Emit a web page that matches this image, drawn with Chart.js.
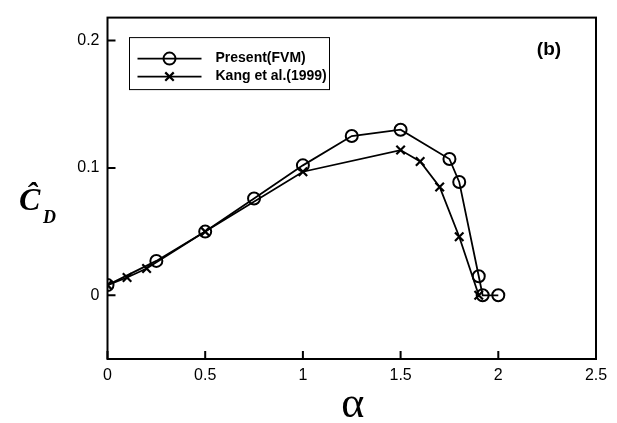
<!DOCTYPE html>
<html>
<head>
<meta charset="utf-8">
<script src="https://cdn.jsdelivr.net/npm/chart.js@4/dist/chart.umd.min.js"></script>
<style>
  body { margin: 0; background: #fff; }
  canvas { display: block; }
</style>
</head>
<body>
<canvas id="dragChart" width="617" height="423"></canvas>
<script>
// drag coefficient vs rotation rate
const alphaFVM = [0, 0.25, 0.5, 0.75, 1.0, 1.25, 1.5, 1.75, 1.8, 1.9, 1.92, 2.0]
const cdFVM = [0.008, 0.027, 0.050, 0.076, 0.102, 0.125, 0.130, 0.107, 0.089, 0.015, 0.0, 0.0]

const alphaKang = [0, 0.1, 0.2, 0.5, 1.0, 1.5, 1.6, 1.7, 1.8, 1.9]
const cdKang = [0.008, 0.014, 0.021, 0.050, 0.097, 0.114, 0.105, 0.085, 0.046, 0.0]

const xTicks = [0, 0.5, 1, 1.5, 2, 2.5]
const yTicks = [0, 0.1, 0.2]

const seriesNames = ['Present(FVM)', 'Kang et al.(1999)']

const toPoints = (xs, ys) => xs.map((x, i) => ({ x: x, y: ys[i] }))

const drawMarker = (ctx, style, x, y, r) => {
    ctx.beginPath()
    if (style === 'circle') {
        ctx.arc(x, y, r, 0, Math.PI * 2)
    } else {
        const d = r * Math.SQRT1_2
        ctx.moveTo(x - d, y - d); ctx.lineTo(x + d, y + d)
        ctx.moveTo(x + d, y - d); ctx.lineTo(x - d, y + d)
    }
    ctx.stroke()
}

// frame, inward ticks, legend box and axis symbols
const decorations = {
    id: 'decorations',
    afterDraw(chart) {
        const ctx = chart.ctx
        const a = chart.chartArea
        const xs = chart.scales.x
        const ys = chart.scales.y
        ctx.save()
        ctx.strokeStyle = '#000'
        ctx.fillStyle = '#000'
        ctx.lineWidth = 2
        ctx.strokeRect(a.left, a.top, a.right - a.left, a.bottom - a.top)

        ctx.beginPath()
        xTicks.forEach(v => {
            const px = xs.getPixelForValue(v)
            ctx.moveTo(px, a.bottom); ctx.lineTo(px, a.bottom - 8)
        })
        yTicks.forEach(v => {
            const py = ys.getPixelForValue(v)
            ctx.moveTo(a.left, py); ctx.lineTo(a.left + 8, py)
        })
        ctx.stroke()

        // legend
        const lx = a.left + 22, ly = a.top + 20
        ctx.lineWidth = 1
        ctx.strokeRect(lx, ly, 200, 52)
        chart.data.datasets.forEach((ds, i) => {
            const rowY = ly + 21 + i * 18
            ctx.lineWidth = 1.8
            ctx.beginPath()
            ctx.moveTo(lx + 8, rowY); ctx.lineTo(lx + 72, rowY)
            ctx.stroke()
            ctx.lineWidth = ds.pointBorderWidth
            drawMarker(ctx, ds.pointStyle, lx + 40, rowY, ds.pointRadius)
            ctx.font = 'bold 14px "Liberation Sans", Arial, sans-serif'
            ctx.textBaseline = 'middle'
            ctx.textAlign = 'left'
            ctx.fillText(ds.label, lx + 86, rowY)
        })

        ctx.font = 'bold 19px "Liberation Sans", Arial, sans-serif'
        ctx.textAlign = 'center'
        ctx.textBaseline = 'middle'
        ctx.fillText('(b)', a.right - 47, a.top + 32)

        // axis titles
        ctx.font = '44px "Liberation Serif", "DejaVu Serif", serif'
        ctx.textBaseline = 'alphabetic'
        ctx.fillText('α', (a.left + a.right) / 2 + 1, 417)

        ctx.textAlign = 'left'
        ctx.font = 'bold italic 32px "Liberation Serif", "DejaVu Serif", serif'
        ctx.fillText('Ĉ', 19, 210)
        ctx.font = 'bold italic 18px "Liberation Serif", "DejaVu Serif", serif'
        ctx.fillText('D', 43, 223)
        ctx.restore()
    }
}

const config = {
    type: 'line',
    data: {
        datasets: [{
            label: seriesNames[0],
            data: toPoints(alphaFVM, cdFVM),
            borderColor: '#000',
            borderWidth: 1.8,
            pointStyle: 'circle',
            pointRadius: 6,
            pointBorderWidth: 2,
            pointBorderColor: '#000',
            pointBackgroundColor: 'rgba(0,0,0,0)',
            tension: 0
        },
        {
            label: seriesNames[1],
            data: toPoints(alphaKang, cdKang),
            borderColor: '#000',
            borderWidth: 1.8,
            pointStyle: 'crossRot',
            pointRadius: 6,
            pointBorderWidth: 2.2,
            pointBorderColor: '#000',
            tension: 0
        }]
    },
    options: {
        responsive: false,
        animation: false,
        devicePixelRatio: 1,
        layout: { padding: { top: 11, right: 21, left: 0, bottom: 0 } },
        plugins: { legend: { display: false }, tooltip: { enabled: false } },
        scales: {
            x: {
                type: 'linear',
                min: 0,
                max: 2.5,
                afterBuildTicks: s => { s.ticks = xTicks.map(v => ({ value: v })) },
                afterFit: s => { s.height = 64 },
                grid: { display: false, drawTicks: false },
                border: { display: false },
                ticks: {
                    color: '#000',
                    padding: 7,
                    maxRotation: 0,
                    font: { family: '"Liberation Sans", Arial, sans-serif', size: 16 },
                    callback: v => String(v)
                }
            },
            y: {
                min: -0.05,
                max: 0.218,
                afterBuildTicks: s => { s.ticks = yTicks.map(v => ({ value: v })) },
                afterFit: s => { s.width = 107.5 },
                grid: { display: false, drawTicks: false },
                border: { display: false },
                ticks: {
                    color: '#000',
                    padding: 8,
                    font: { family: '"Liberation Sans", Arial, sans-serif', size: 16 },
                    callback: v => String(v)
                }
            }
        }
    },
    plugins: [decorations]
}

const dragChart = new Chart(document.getElementById('dragChart'), config)
</script>
</body>
</html>
